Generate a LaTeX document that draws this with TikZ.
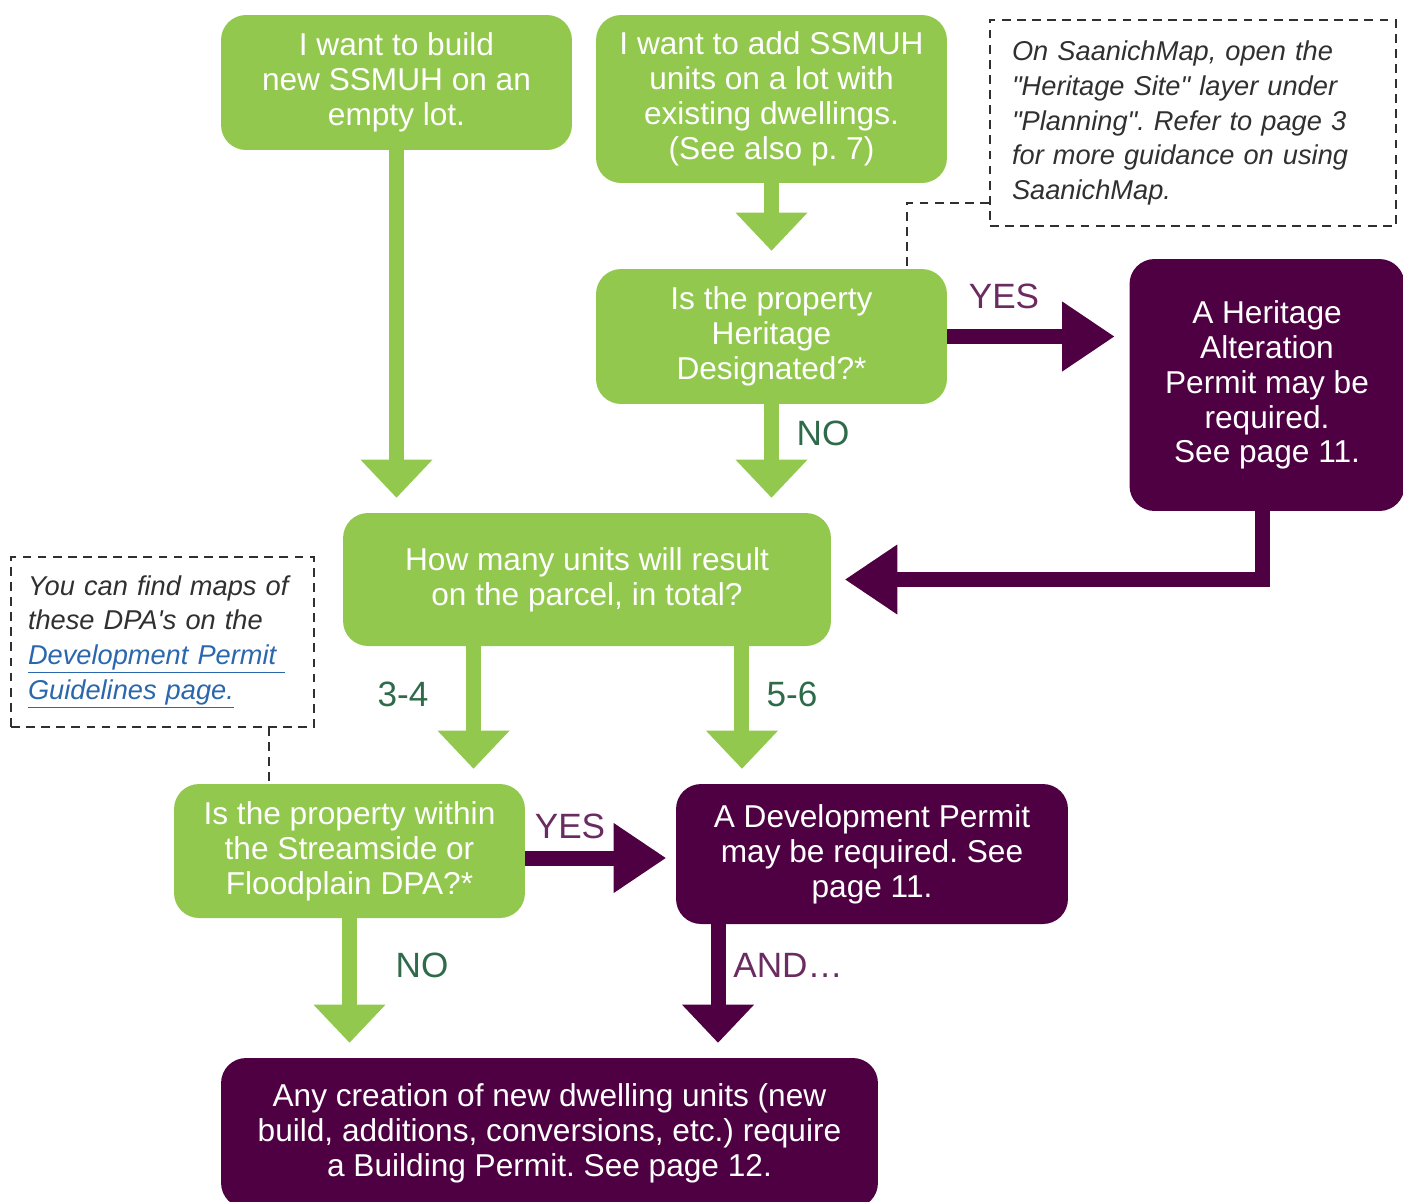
\documentclass[tikz,border=0pt]{standalone}
\usepackage{fontspec}
\setmainfont{Liberation Sans}[Ligatures=TeXOff]
\usepackage{xcolor}
\usepackage{tikz}
\usetikzlibrary{arrows.meta}
\frenchspacing

\definecolor{qgreen}{HTML}{92C84E}
\definecolor{apurple}{HTML}{4E0042}
\definecolor{lblpurple}{HTML}{6A2C60}
\definecolor{lblgreen}{HTML}{2F6B4A}
\definecolor{hintgray}{HTML}{303030}
\definecolor{linkblue}{HTML}{2A67AC}

\begin{document}
\begin{tikzpicture}[%
    x=0.02cm,y=-0.02cm,
    qbox/.style={%
      rectangle,rounded corners=0.5cm,fill=qgreen,text=white,align=center,
      inner sep=0pt,minimum width=7.02cm,font=\fontsize{18}{19.84}\selectfont},
    abox/.style={qbox,fill=apurple},
    hint/.style={%
      draw=hintgray,line width=1.3pt,dash pattern=on 5pt off 3.6pt,
      align=left,text=hintgray,inner ysep=0pt,
      font=\fontsize{15.5}{19.84}\selectfont\itshape},
    hintline/.style={draw=hintgray,line width=1.3pt,dash pattern=on 5pt off 3.6pt},
    downarrow/.style={%
      line width=0.3cm,-{Triangle[length=0.76cm,width=1.44cm,line width=0pt]},
      shorten >=0.3cm},
    sidearrow/.style={%
      line width=0.3cm,-{Triangle[length=1.04cm,width=1.4cm,line width=0pt]},
      shorten >=0.3cm},
    lbl/.style={font=\fontsize{20}{24}\selectfont,text=lblgreen},
    lblp/.style={lbl,text=lblpurple}
  ]
    \useasboundingbox (0,0) rectangle (1403,1201);

    \node[qbox,minimum height=2.7cm] (build) at (396.5,82.5)
      {I want to build\\new SSMUH on an\\empty lot.};
    \node[qbox,minimum height=3.36cm] (add) at (771.5,99)
      {I want to add SSMUH\\units on a lot with\\existing dwellings.\\(See also p.~7)};
    \node[hint,text width=7.24cm,inner xsep=0.44cm,minimum height=4.12cm] (mapnote) at (1193,123)
      {On SaanichMap, open the\\"Heritage Site" layer under\\"Planning". Refer to page 3\\for more guidance on using\\SaanichMap.};
    \node[qbox,minimum height=2.7cm] (heritage) at (771.5,336.5)
      {Is the property\\Heritage\\Designated?*};
    \node[abox,minimum width=5.5cm,minimum height=5.04cm] (hap) at (1267,385)
      {A Heritage\\Alteration\\Permit may be\\required.\\See page 11.};
    \node[qbox,minimum width=9.76cm,minimum height=2.66cm] (units) at (587,579.5)
      {How many units will result\\on the parcel, in total?};
    \node[hint,text width=5.38cm,inner xsep=0.34cm,minimum height=3.4cm] (dpanote) at (162.5,642)
      {You can find maps of\\these DPA's on the\\\textcolor{linkblue}{\underline{Development Permit }}\\\textcolor{linkblue}{\underline{Guidelines page.}}};
    \node[qbox,minimum height=2.68cm] (stream) at (349.5,851)
      {Is the property within\\the Streamside or\\Floodplain DPA?*};
    \node[abox,minimum width=7.84cm,minimum height=2.8cm] (dp) at (872,854)
      {A Development Permit\\may be required. See\\page 11.};
    \node[abox,minimum width=13.14cm,minimum height=3.0cm] (bp) at (549.5,1133)
      {Any creation of new dwelling units (new\\build, additions, conversions, etc.) require\\a Building Permit. See page 12.};

    \coordinate (mapturn) at (907,203);
    \coordinate (dpadrop) at (269,727);
    \draw[hintline] (mapnote.west |- mapturn) -- (mapturn) -- (mapturn |- heritage.north);
    \draw[hintline] (dpadrop) -- (dpadrop |- stream.north);

    \draw[downarrow,qgreen] (build.south) -- (build.south |- units.north);
    \draw[downarrow,qgreen,shorten >=0.36cm] (add.south) -- (heritage.north);
    \draw[downarrow,qgreen] (heritage.south) -- (heritage.south |- units.north);
    \draw[sidearrow,apurple] (heritage.east) -- (hap.west |- heritage.east);
    \draw[sidearrow,apurple,shorten >=0.28cm] ([xshift=-0.09cm]hap.south) |- (units.east);
    \draw[downarrow,qgreen] ([xshift=-2.27cm]units.south) -- ([xshift=-2.27cm]units.south |- stream.north);
    \draw[downarrow,qgreen] ([xshift=3.1cm]units.south) -- ([xshift=3.1cm]units.south |- dp.north);
    \draw[sidearrow,apurple,shorten >=0.2cm] ([yshift=-0.14cm]stream.east) -- ([yshift=-0.14cm]stream.east -| dp.west);
    \draw[downarrow,qgreen] (stream.south) -- (stream.south |- bp.north);
    \draw[downarrow,apurple] ([xshift=-3.08cm]dp.south) -- ([xshift=-3.08cm]dp.south |- bp.north);

    \node[lblp] (yesher) at (1004,296) {YES};
    \node[lbl] (noher) at (823,433) {NO};
    \node[lbl] (few) at (403,694) {3-4};
    \node[lbl] (more) at (792,694) {5-6};
    \node[lblp] (yesdpa) at (570,826) {YES};
    \node[lbl] (nodpa) at (422,965) {NO};
    \node[lblp] (andalso) at (788,965) {AND\dots};
  \end{tikzpicture}
\end{document}
